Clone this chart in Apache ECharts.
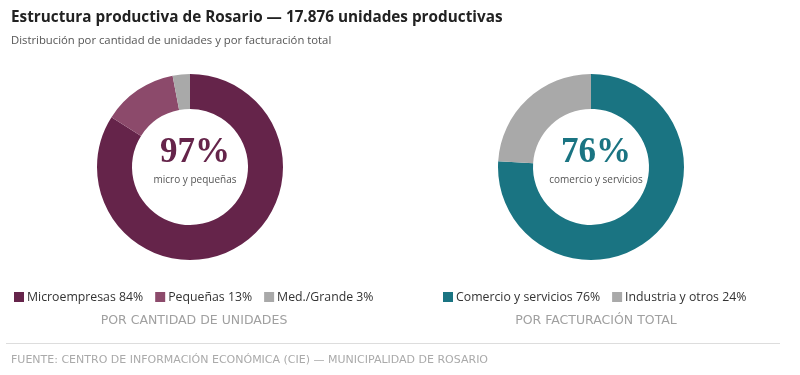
<!DOCTYPE html>
<html>
<head>
<meta charset="utf-8">
<script src="https://cdn.jsdelivr.net/npm/echarts@6/dist/echarts.min.js"></script>
<style>
  html, body { margin: 0; padding: 0; background: #fff; }
  #chart { width: 800px; height: 375px; }
</style>
</head>
<body>
<div id="chart"></div>
<script>
// datos
const unidadesCats = ['Microempresas', 'Pequeñas', 'Med./Grande'];
const unidadesVals = [84, 13, 3];
const facturacionCats = ['Comercio y servicios', 'Industria y otros'];
const facturacionVals = [76, 24];

const colUnidades = ['#65244a', '#8c4a6b', '#a9a9a9'];
const colFacturacion = ['#1a7482', '#a9a9a9'];

const font = '"Open Sans", "Noto Sans", sans-serif';
const capsFont = '"DejaVu Sans", sans-serif';

function toData (cats, vals, cols) {
  return cats.map((c, i) => ({ name: c, value: vals[i], itemStyle: { color: cols[i] } }));
}
const pctOf = {};
unidadesCats.forEach((c, i) => { pctOf[c] = unidadesVals[i]; });
facturacionCats.forEach((c, i) => { pctOf[c] = facturacionVals[i]; });

const chart = echarts.init(document.getElementById('chart'));

const legendBase = {
  orient: 'horizontal',
  icon: 'rect',
  itemWidth: 10,
  itemHeight: 10,
  itemGap: 12,
  top: 286,
  selectedMode: false,
  textStyle: { color: '#333', fontSize: 12.3, fontFamily: font, padding: [0, 0, 0, -2] },
  formatter: name => name + ' ' + pctOf[name] + '%'
};

const pieBase = {
  type: 'pie',
  startAngle: 90,
  clockwise: true,
  label: { show: false },
  labelLine: { show: false },
  silent: true,
  animation: false
};

chart.setOption({
  backgroundColor: '#fff',
  title: [
    {
      text: 'Estructura productiva de Rosario — 17.876 unidades productivas',
      left: 6, top: 5,
      textStyle: { fontFamily: font, fontSize: 15.3, fontWeight: 'bold', color: '#222' }
    },
    {
      text: 'Distribución por cantidad de unidades y por facturación total',
      left: 6, top: 30,
      textStyle: { fontFamily: font, fontSize: 11.3, fontWeight: 'normal', color: '#555' }
    },
    {
      text: '97%', left: 190, top: 130, textAlign: 'center',
      textStyle: { fontFamily: '"Liberation Serif", serif', fontSize: 35, fontWeight: 'bold', color: '#65244a' }
    },
    {
      text: 'micro y pequeñas', left: 190, top: 170, textAlign: 'center',
      textStyle: { fontFamily: font, fontSize: 10, fontWeight: 'normal', color: '#555' }
    },
    {
      text: '76%', left: 591, top: 130, textAlign: 'center',
      textStyle: { fontFamily: '"Liberation Serif", serif', fontSize: 35, fontWeight: 'bold', color: '#1a7482' }
    },
    {
      text: 'comercio y servicios', left: 591, top: 170, textAlign: 'center',
      textStyle: { fontFamily: font, fontSize: 10, fontWeight: 'normal', color: '#555' }
    },
    {
      text: 'POR CANTIDAD DE UNIDADES', left: 189, top: 309, textAlign: 'center',
      textStyle: { fontFamily: capsFont, fontSize: 12.5, fontWeight: 'normal', color: '#a0a0a0' }
    },
    {
      text: 'POR FACTURACIÓN TOTAL', left: 591, top: 309, textAlign: 'center',
      textStyle: { fontFamily: capsFont, fontSize: 12.5, fontWeight: 'normal', color: '#a0a0a0' }
    },
    {
      text: 'FUENTE: CENTRO DE INFORMACIÓN ECONÓMICA (CIE) — MUNICIPALIDAD DE ROSARIO',
      left: 6, top: 350,
      textStyle: { fontFamily: capsFont, fontSize: 11, fontWeight: 'normal', color: '#aaa' }
    }
  ],
  legend: [
    Object.assign({}, legendBase, { left: 9, data: unidadesCats }),
    Object.assign({}, legendBase, { left: 438, data: facturacionCats })
  ],
  graphic: [
    {
      type: 'line',
      shape: { x1: 6, y1: 343.5, x2: 780, y2: 343.5 },
      style: { stroke: '#ddd', lineWidth: 1 }
    }
  ],
  series: [
    Object.assign({}, pieBase, {
      name: 'Unidades',
      center: [190, 167],
      radius: [58, 93],
      data: toData(unidadesCats, unidadesVals, colUnidades)
    }),
    Object.assign({}, pieBase, {
      name: 'Facturación',
      center: [591, 167],
      radius: [58, 93],
      data: toData(facturacionCats, facturacionVals, colFacturacion)
    })
  ]
});
</script>
</body>
</html>
